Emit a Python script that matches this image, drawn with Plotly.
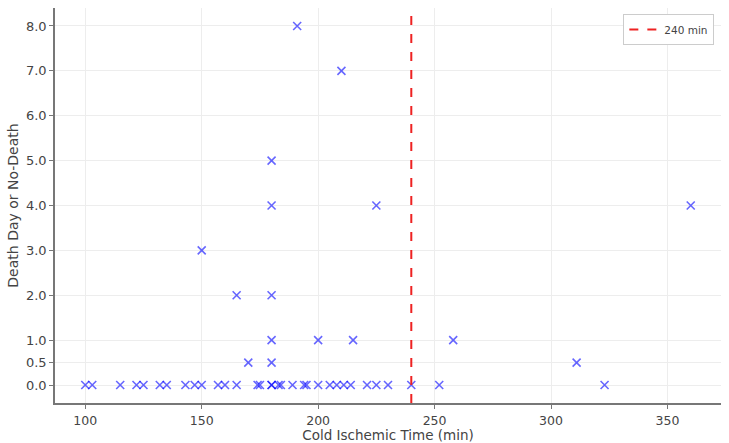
import plotly.graph_objects as go

# Data
cold_time = [100, 103, 115, 122, 125, 132, 135, 143, 147, 150, 157, 160, 165, 174, 175,
             180, 180, 183, 184, 189, 194, 195, 200, 205, 208, 211, 214, 221, 225, 230,
             240, 252, 323,
             170, 180, 311,
             180, 200, 215, 258,
             165, 180, 150, 180, 225, 360, 180, 210, 191]
death_day = [0, 0, 0, 0, 0, 0, 0, 0, 0, 0, 0, 0, 0, 0, 0,
             0, 0, 0, 0, 0, 0, 0, 0, 0, 0, 0, 0, 0, 0, 0,
             0, 0, 0,
             0.5, 0.5, 0.5,
             1, 1, 1, 1,
             2, 2, 3, 4, 4, 4, 5, 7, 8]
threshold = 240
threshold_label = "240 min"
y_ticks = [0, 0.5, 1, 2, 3, 4, 5, 6, 7, 8]
y_tick_text = ["0.0", "0.5", "1.0", "2.0", "3.0", "4.0", "5.0", "6.0", "7.0", "8.0"]
x_ticks = [100, 150, 200, 250, 300, 350]
x_range = [87, 373]
y_range = [-0.4, 8.4]

fig = go.Figure()
fig.add_trace(go.Scatter(
    x=cold_time, y=death_day, mode="markers", showlegend=False,
    marker=dict(symbol="x-thin", size=8,
                line=dict(width=1.6, color="rgba(0,0,255,0.6)"),
                color="rgba(0,0,255,0.6)"),
))
fig.add_trace(go.Scatter(
    x=[threshold, threshold], y=y_range, mode="lines", name=threshold_label,
    line=dict(color="#ee2222", width=2, dash="dash"), showlegend=True,
))

axis_common = dict(
    showgrid=True, gridcolor="#ededed", gridwidth=1,
    showline=True, linecolor="#777777", linewidth=1.5,
    ticks="outside", ticklen=4, tickcolor="#777777",
    tickfont=dict(family="DejaVu Sans", size=13, color="#444444"),
    zeroline=False, mirror=False, automargin=False,
)
fig.update_layout(
    width=729, height=443,
    margin=dict(l=55, r=8, t=8, b=40),
    paper_bgcolor="white", plot_bgcolor="white",
    font=dict(family="DejaVu Sans", size=13, color="#444444"),
    xaxis=dict(range=x_range, tickvals=x_ticks, ticklabelstandoff=1,
               title=dict(text="Cold Ischemic Time (min)", standoff=4,
                          font=dict(size=13.5, color="#444444")),
               **{**axis_common, "tickfont": dict(family="DejaVu Sans", size=12.5, color="#444444")}),
    yaxis=dict(range=y_range, tickvals=y_ticks, ticktext=y_tick_text,
               title=dict(text="Death Day or No-Death", standoff=4,
                          font=dict(size=14, color="#444444")),
               **axis_common),
    legend=dict(x=0.99, y=0.985, xanchor="right", yanchor="top",
                bgcolor="white", bordercolor="#cccccc", borderwidth=1,
                font=dict(size=10.5, color="#444444")),
)

fig.write_html("out.html")
